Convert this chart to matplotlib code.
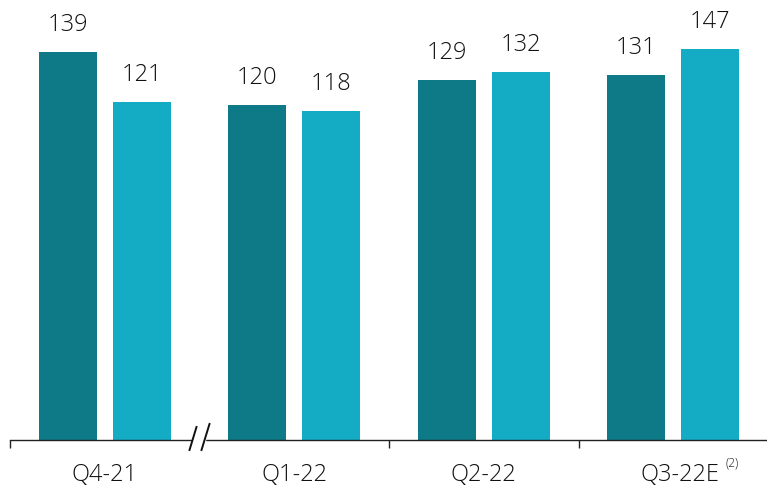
import numpy as np
import matplotlib
matplotlib.use('Agg')
import matplotlib.pyplot as plt
from matplotlib.lines import Line2D
from matplotlib.patches import Rectangle

plt.rcParams['font.family'] = ['Open Sans', 'DejaVu Sans']
plt.rcParams['font.weight'] = 'light'

categories = ['Q4-21', 'Q1-22', 'Q2-22', 'Q3-22E']
series_dark = [139, 120, 129, 131]
series_light = [121, 118, 132, 147]
# heights as drawn in the reference (last bar is drawn shorter than its label)
series_light_drawn = [121, 118, 132, 140]
footnote = '(2)'

DARK = '#0E7A87'
LIGHT = '#13ACC4'
TXT = '#111111'

W, H = 767, 486
fig = plt.figure(figsize=(W / 100, H / 100), dpi=100)
group_px = 189.5
ax = fig.add_axes([10 / W, 46 / H, 757 / W, 440 / H])
ax.set_xlim(-0.5, -0.5 + 757 / group_px)
ax.set_ylim(0, 440 / 2.79)

x = np.arange(len(categories))
bw = 58 / group_px
off = 37 / group_px
ax.bar(x - off, series_dark, bw, color=DARK, zorder=2)
ax.bar(x + off, series_light_drawn, bw, color=LIGHT, zorder=2)

for xi, h, v in zip(x - off, series_dark, series_dark):
    ax.annotate(str(v), (xi, h), xytext=(0, 27 * 0.72), textcoords='offset points',
                ha='center', va='center', fontsize=17, color=TXT, fontweight='light')
for xi, h, v in zip(x + off, series_light_drawn, series_light):
    ax.annotate(str(v), (xi, h), xytext=(0, 27 * 0.72), textcoords='offset points',
                ha='center', va='center', fontsize=17, color=TXT, fontweight='light')

for s in ['top', 'right', 'left']:
    ax.spines[s].set_visible(False)
ax.spines['bottom'].set_color('#222222')
ax.spines['bottom'].set_linewidth(1.0)
ax.set_yticks([])
ax.set_xticks([-0.5, 1.5, 2.5])
ax.set_xticklabels([])
ax.tick_params(axis='x', direction='out', length=8 * 0.72, width=1.0, color='#222222')

dxs = [0, 0, 0, 7]
for xi, lab, dx in zip(x, categories, dxs):
    ax.annotate(lab, (xi, 0), xycoords=('data', 'axes fraction'),
                xytext=(dx * 0.72, -35 * 0.72), textcoords='offset points',
                ha='center', va='center', fontsize=17, color=TXT, fontweight='light')

# superscript footnote marker
fig.text(732 / W, 1 - 463 / H, footnote, ha='center', va='center', fontsize=8.5,
         color=TXT, fontweight='light')

# axis break marks
bx = 10 + 1.0 * group_px
fig.add_artist(Rectangle(((bx - 6) / W, (H - 443) / H), 12 / W, 6 / H,
                         transform=fig.transFigure, color='white', zorder=5))
for x0, x1, y0, y1 in [(bx - 10, bx - 3, 450, 427), (bx + 2, bx + 10, 450, 424)]:
    fig.add_artist(Line2D([x0 / W, x1 / W], [(H - y0) / H, (H - y1) / H],
                          transform=fig.transFigure, color='#111111', lw=1.4, zorder=6))

fig.savefig('out.png', dpi=100)
